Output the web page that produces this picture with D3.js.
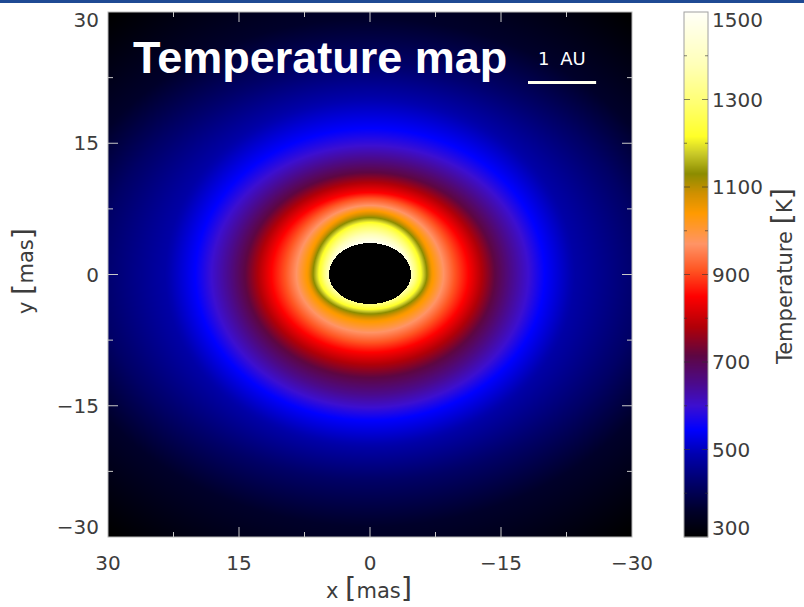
<!DOCTYPE html>
<html><head><meta charset="utf-8">
<script src="https://cdn.jsdelivr.net/npm/d3@7"></script>
<style>html,body{margin:0;padding:0;background:#fff;} svg{display:block;}</style>
</head><body>
<svg id="chart" width="804" height="607"></svg>
<script>
// ---------- data ----------
const xTicks = [30, 15, 0, -15, -30];
const yTicks = [30, 15, 0, -15, -30];
const minorTicks = [22.5, 7.5, -7.5, -22.5];
const cbTicks = [300, 500, 700, 900, 1100, 1300, 1500];
const cbMinor = [400, 600, 800, 1000, 1200, 1400];
// colour table of the colour bar (K -> colour)
const cmapT = [300, 360, 430, 490, 545, 600, 650, 715, 780, 850, 910, 970, 1040, 1085, 1130, 1175, 1215, 1290, 1380, 1500];
const cmapC = ["#000000", "#00002a", "#000070", "#0000b0", "#0000ff", "#3c0fd0", "#4b0a8c", "#5e0642", "#b00008", "#ff0000",
               "#ff5522", "#ff9466", "#ff9a00", "#d09000", "#8c8c00", "#c8c828", "#ffff28", "#ffff70", "#ffffb8", "#fffff8"];
const isoT   = [1500, 1380, 1250, 1130, 1050, 970, 910, 850, 780, 715, 650, 600, 545, 480, 420, 360, 300];
const isoA   = [4.34, 4.80, 5.57, 6.51, 7.09, 8.42, 9.71, 11.28, 12.80, 14.29, 16.23, 18.14, 20.00, 23.43, 31.09, 36.57, 45.71];
const isoTop = [3.54, 4.57, 5.71, 6.51, 7.20, 7.89, 8.69, 9.37, 10.51, 11.66, 13.26, 14.74, 16.69, 20.46, 24.23, 29.26, 38.86];
const isoBot = [2.29, 2.97, 3.77, 4.51, 5.26, 6.63, 7.77, 8.91, 10.29, 11.77, 13.71, 15.20, 16.69, 19.77, 23.54, 28.80, 38.86];
// central cavity (mas): semi-axis x, up, down
const cavity = [4.69, 3.60, 3.37];
const auLengthMas = [7.8];
const titleText = "Temperature map";
const auText = "1 AU";

// ---------- layout ----------
const svg = d3.select("#chart");
const X0 = 108, X1 = 632, Y0 = 12, Y1 = 537;
const x = d3.scaleLinear().domain([30, -30]).range([X0, X1]);
const y = d3.scaleLinear().domain([30, -30]).range([Y0, Y1]);
const color = d3.scaleLinear().domain(cmapT).range(cmapC).interpolate(d3.interpolateRgb).clamp(true);
const cbY = d3.scaleLinear().domain([300, 1500]).range([Y1, Y0]);
const fontTick = "'DejaVu Sans', Verdana, sans-serif";
const tickCol = "#3c3c3c";

svg.append("rect").attr("x", 0).attr("y", 0).attr("width", 804).attr("height", 3).attr("fill", "#1f4a94");

// ---------- temperature field ----------
function tempAt(px, py) {
  const cb = py >= 0 ? cavity[1] : cavity[2];
  if ((px / cavity[0]) ** 2 + (py / cb) ** 2 < 1) return null;
  const d = Math.hypot(px, py);
  let prevS = 0, prevT = isoT[0];
  for (let k = 0; k < isoT.length; k++) {
    const c = py >= 0 ? isoTop[k] : isoBot[k];
    const rho = Math.sqrt((px / isoA[k]) ** 2 + (py / c) ** 2);
    const s = rho > 0 ? d / rho : 0;
    if (d <= s) {
      if (k === 0) return isoT[0];
      const f = (d - prevS) / (s - prevS);
      return prevT + f * (isoT[k] - prevT);
    }
    prevS = s; prevT = isoT[k];
  }
  return isoT[isoT.length - 1];
}
const W = X1 - X0, H = Y1 - Y0;
const canvas = document.createElement("canvas");
canvas.width = W; canvas.height = H;
const ctx = canvas.getContext("2d");
const img = ctx.createImageData(W, H);
for (let j = 0; j < H; j++) {
  const vy = y.invert(Y0 + j + 0.5);
  for (let i = 0; i < W; i++) {
    const vx = x.invert(X0 + i + 0.5);
    const t = tempAt(vx, vy);
    const c = d3.rgb(t === null ? "#000" : color(t));
    const o = (j * W + i) * 4;
    img.data[o] = c.r; img.data[o + 1] = c.g; img.data[o + 2] = c.b; img.data[o + 3] = 255;
  }
}
ctx.putImageData(img, 0, 0);
svg.append("image").attr("x", X0).attr("y", Y0).attr("width", W).attr("height", H)
  .attr("preserveAspectRatio", "none").attr("href", canvas.toDataURL());

// ---------- frame and ticks ----------
svg.append("rect").attr("x", X0).attr("y", Y0).attr("width", W).attr("height", H)
  .attr("fill", "none").attr("stroke", "#b8b8b8").attr("stroke-width", 1);
const tickG = svg.append("g").attr("stroke", "#c8c8c8").attr("stroke-width", 1);
function tks(vals, len) {
  vals.forEach(v => {
    tickG.append("line").attr("x1", x(v)).attr("x2", x(v)).attr("y1", Y1).attr("y2", Y1 - len);
    tickG.append("line").attr("x1", x(v)).attr("x2", x(v)).attr("y1", Y0).attr("y2", Y0 + len);
    tickG.append("line").attr("y1", y(v)).attr("y2", y(v)).attr("x1", X0).attr("x2", X0 + len);
    tickG.append("line").attr("y1", y(v)).attr("y2", y(v)).attr("x1", X1).attr("x2", X1 - len);
  });
}
tks(xTicks.slice(1, -1), 10);
tks(minorTicks, 5);

const fmt = v => v < 0 ? "\u2212" + Math.abs(v) : String(v);
svg.append("g").selectAll("text").data(xTicks).join("text")
  .attr("x", d => x(d)).attr("y", 570).attr("text-anchor", "middle")
  .attr("font-family", fontTick).attr("font-size", 20).attr("fill", tickCol).text(fmt);
svg.append("g").selectAll("text").data(yTicks).join("text")
  .attr("x", 99).attr("y", d => Math.min(Math.max(y(d), 20), 527)).attr("dy", "0.36em")
  .attr("text-anchor", "end")
  .attr("font-family", fontTick).attr("font-size", 20).attr("fill", tickCol).text(fmt);

function bracketLabel(g, parts) {
  const t = g.append("text").attr("font-family", fontTick).attr("font-size", 21).attr("fill", tickCol);
  parts.forEach(p => t.append("tspan").attr("font-size", p[1]).text(p[0]));
  return t;
}
bracketLabel(svg.append("g").attr("transform", "translate(369,598)"),
  [["x ", 21], ["[", 29], ["mas", 21], ["]", 29]]).attr("text-anchor", "middle");
bracketLabel(svg.append("g").attr("transform", "translate(33,271) rotate(-90)"),
  [["y ", 21], ["[", 29], ["mas", 21], ["]", 29]]).attr("text-anchor", "middle");

// ---------- title and scale bar ----------
svg.append("text").attr("x", 133).attr("y", 73)
  .attr("font-family", "'Liberation Sans', Arial, sans-serif").attr("font-weight", "bold")
  .attr("font-size", 45).attr("fill", "#ffffff").text(titleText);
svg.append("text").attr("x", 538).attr("y", 65).attr("word-spacing", 5)
  .attr("font-family", fontTick).attr("font-size", 18).attr("fill", "#ffffff").text(auText);
const barX = 528;
svg.append("line").attr("x1", barX).attr("x2", barX + (x(0) - x(auLengthMas[0])))
  .attr("y1", 82.5).attr("y2", 82.5).attr("stroke", "#fffff0").attr("stroke-width", 3);

// ---------- colour bar ----------
const CB0 = 684, CB1 = 708;
const cbG = svg.append("g");
cbG.selectAll("rect").data(d3.range(Y0, Y1)).join("rect")
  .attr("x", CB0).attr("width", CB1 - CB0).attr("y", d => d).attr("height", 1.2)
  .attr("fill", d => color(cbY.invert(d + 0.5)));
svg.append("rect").attr("x", CB0).attr("y", Y0).attr("width", CB1 - CB0).attr("height", H)
  .attr("fill", "none").attr("stroke", "#a0a0a0").attr("stroke-width", 1);
const cbT = svg.append("g").attr("stroke", "#333").attr("stroke-opacity", 0.6).attr("stroke-width", 1);
function cbt(vals, len) {
  vals.forEach(v => {
    cbT.append("line").attr("x1", CB0).attr("x2", CB0 + len).attr("y1", cbY(v)).attr("y2", cbY(v));
    cbT.append("line").attr("x1", CB1).attr("x2", CB1 - len).attr("y1", cbY(v)).attr("y2", cbY(v));
  });
}
cbt(cbTicks.slice(1, -1), 6);
cbt(cbMinor, 3);
svg.append("g").selectAll("text").data(cbTicks).join("text")
  .attr("x", 712).attr("y", d => Math.min(Math.max(cbY(d), 20), 528)).attr("dy", "0.36em")
  .attr("font-family", fontTick).attr("font-size", 20).attr("fill", tickCol).text(d => d);
bracketLabel(svg.append("g").attr("transform", "translate(792,276) rotate(-90)"),
  [["Temperature ", 21], ["[", 29], ["K", 21], ["]", 29]]).attr("text-anchor", "middle");
</script>
</body></html>
